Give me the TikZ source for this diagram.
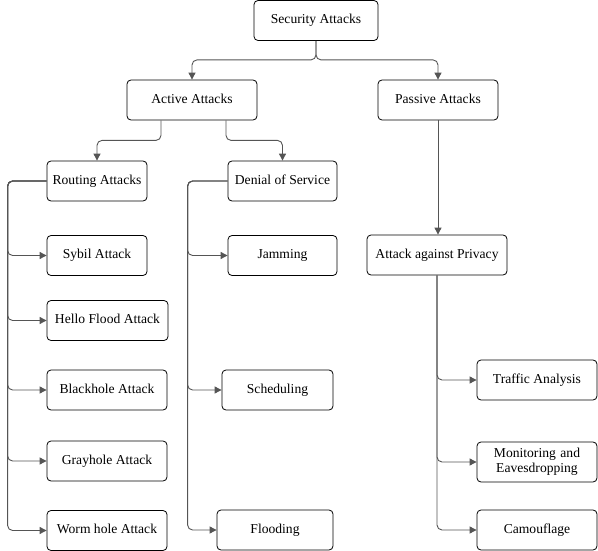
\documentclass[tikz,border=0pt]{standalone}
\usepackage{fontspec}
\setmainfont{Liberation Serif}
\usetikzlibrary{arrows.meta,calc}
\definecolor{linec}{HTML}{555555}
\begin{document}
\begin{tikzpicture}[x=1pt,y=-1pt,
  box/.style={draw=black,rounded corners=4pt,line width=0.8pt,inner sep=1pt,
    minimum height=40pt,align=center,font=\fontsize{13.6}{15}\selectfont},
  one/.style={text height=9.5pt,text depth=3pt},
  conn/.style={draw=linec,line width=0.9pt,rounded corners=5pt,
    -{Triangle[length=7pt,width=7pt]}}]
\useasboundingbox (0,0) rectangle (598,551);
\node[box,one,minimum width=124pt] (sa) at (316,20.5) {Security Attacks};
\node[box,one,minimum width=130pt] (aa) at (192,100) {Active Attacks};
\node[box,one,minimum width=120pt] (pa) at (438,100) {Passive Attacks};
\node[box,one,minimum width=100pt] (ra) at (97,181) {Routing Attacks};
\node[box,one,minimum width=109pt] (dos) at (282.5,181) {Denial of Service};
\node[box,one,minimum width=100pt] (sy) at (97,255.5) {Sybil Attack};
\node[box,one,minimum width=121pt] (he) at (107.5,320.5) {Hello Flood Attack};
\node[box,one,minimum width=120pt] (bh) at (107,390) {Blackhole Attack};
\node[box,one,minimum width=120pt] (gh) at (107,461) {Grayhole Attack};
\node[box,one,minimum width=120pt] (wh) at (107,530.5) {Worm hole Attack};
\node[box,one,minimum width=109pt] (jam) at (282.5,255.5) {Jamming};
\node[box,one,minimum width=111pt] (sch) at (277.5,390) {Scheduling};
\node[box,one,minimum width=116pt] (fl) at (275,530) {Flooding};
\node[box,one,minimum width=140pt] (pr) at (437,255) {Attack against Privacy};
\node[box,one,minimum width=120pt] (ta) at (537,380) {Traffic Analysis};
\node[box,minimum width=120pt,text width=114pt] (mon) at (537,462) {Monitoring and\\Eavesdropping};
\node[box,one,minimum width=120pt] (cam) at (537,530) {Camouflage};

\draw[conn] (sa.south) -- ++(0,19) -| (aa.north);
\draw[conn] (sa.south) -- ++(0,19) -| (pa.north);
\draw[conn] ([xshift=-31pt]aa.south) -- ++(0,20) -| (ra.north);
\draw[conn] ([xshift=34pt]aa.south) -- ++(0,20) -| (dos.north);
\draw[conn,rounded corners=0pt] (pa.south) -- (pr.north-|pa.south);
\foreach \c in {sy,he,bh,gh,wh}{
  \draw[conn] (ra.west) -- ++(-39,0) |- (\c.west);
}
\foreach \c in {jam,sch,fl}{
  \draw[conn] (dos.west) -- ++(-40,0) |- (\c.west);
}
\foreach \c in {ta,mon,cam}{
  \draw[conn] (pr.south) |- (\c.west);
}
\end{tikzpicture}
\end{document}
